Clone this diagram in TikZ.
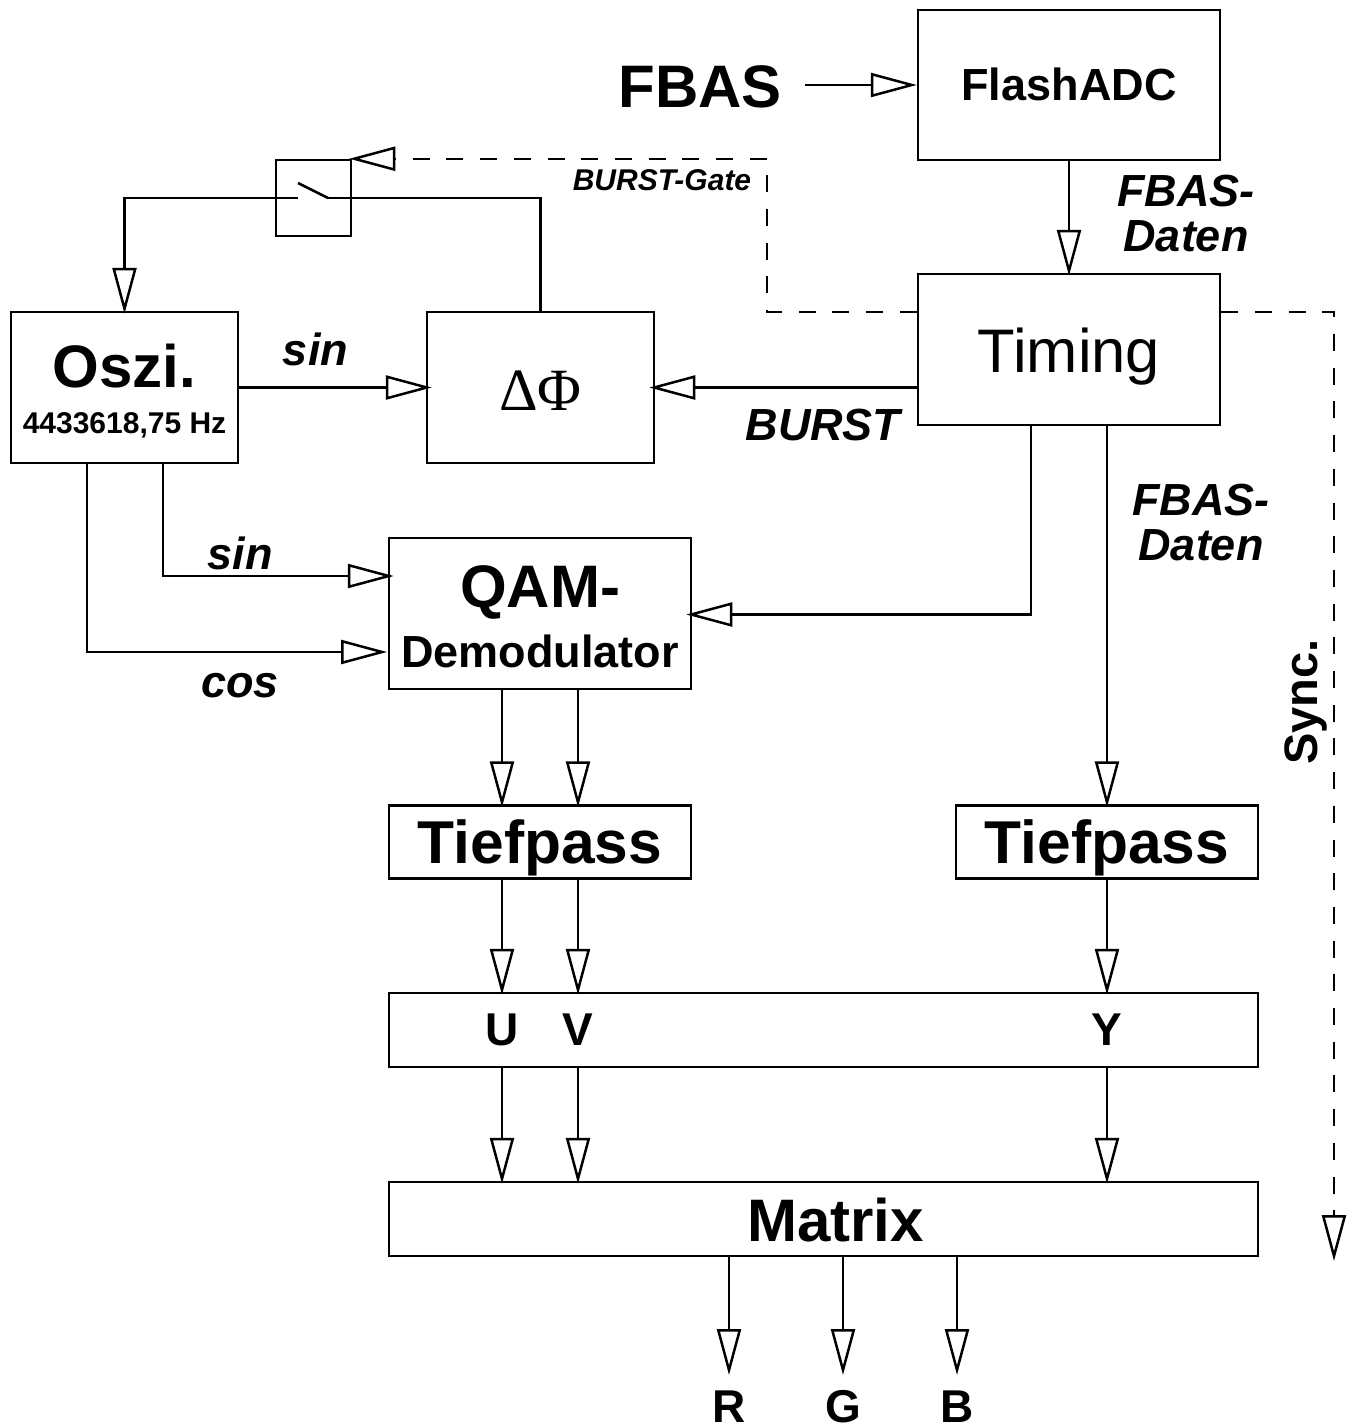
\documentclass[tikz,border=0pt]{standalone}
\usepackage{fontspec}
\setmainfont{Liberation Sans}
\newfontfamily\serifgreek{Liberation Serif}
\usetikzlibrary{arrows.meta}
\newcommand{\fs}[1]{\fontsize{#1}{#1}\selectfont}
% text line centred on the box, baseline #1 pt below the box centre
\newcommand{\bl}[2]{\makebox[0pt][c]{\raisebox{-#1pt}[0pt][0pt]{#2}}}
\tikzset{
  x=1pt,y=-1pt,
  wire/.style={line width=2.5pt,line join=miter},
  flow/.style={wire,shorten >=-3pt,-{Triangle[open,fill=white,length=46pt,width=24pt,line width=2.5pt]}},
  flowshort/.style={flow,shorten >=0pt},
  flowover/.style={flow,shorten >=-6pt},
  ctrl/.style={flow,dash pattern=on 17pt off 16.7pt},
  blockbox/.style={draw,line width=2.5pt,inner sep=0pt,anchor=center},
  big/.style={font=\bfseries\fs{60.5}},
  mid/.style={font=\bfseries\fs{45}},
  sig/.style={font=\bfseries\itshape\fs{45},inner sep=0pt,align=center},
  plain/.style={font=\bfseries\fs{46},inner sep=0pt},
}
\begin{document}
\begin{tikzpicture}
\useasboundingbox (0,0) rectangle (1349,1426);
% blocks
\node[blockbox,mid,minimum width=302pt,minimum height=150pt] (adc) at (1069,85) {\bl{16}{FlashADC}};
\node[blockbox,font=\fs{61.5},minimum width=302pt,minimum height=151pt] (timing) at (1069,349.5) {\bl{22.5}{Timing}};
\node[blockbox,minimum width=75pt,minimum height=76pt] (switch) at (313.5,198) {};
\node[blockbox,font=\bfseries,minimum width=227pt,minimum height=151pt] (osc) at (124.5,387.5) {\bl{0}{\fs{60}Oszi.}\bl{45.5}{\fs{30}4433618,75 Hz}};
\node[blockbox,font=\serifgreek\fs{60},minimum width=227pt,minimum height=151pt] (phase) at (540.5,387.5) {\bl{22.5}{\char"0394\char"03A6}};
\node[blockbox,font=\bfseries,minimum width=302pt,minimum height=151pt] (qam) at (540,613.5) {\bl{-6.5}{\fs{60}QAM-}\bl{53.5}{\fs{45}Demodulator}};
\node[blockbox,big,minimum width=302pt,minimum height=73pt] (lpa) at (540,842) {\bl{21}{Tiefpass}};
\node[blockbox,big,minimum width=302pt,minimum height=73pt] (lpb) at (1107,842) {\bl{21}{Tiefpass}};
\node[blockbox,minimum width=869pt,minimum height=74pt] (mix) at (823.5,1030) {};
\node[blockbox,font=\bfseries\fs{60},minimum width=869pt,minimum height=74pt] (matrix) at (823.5,1219) {\hspace*{24pt}\bl{22}{Matrix}};
% port coordinates
\coordinate (xu) at (502,0);
\coordinate (xv) at (578,0);
\coordinate (xy) at (1107,0);
\coordinate (xr) at (729,0);
\coordinate (xg) at (843,0);
\coordinate (xb) at (957,0);
\coordinate (xqam) at (1031,0);
\coordinate (xsin) at (163,0);
\coordinate (xcos) at (87,0);
\coordinate (xgate) at (767,0);
\coordinate (xsync) at (1334,0);
\coordinate (ytop) at (0,312);
\coordinate (ysin) at (0,576);
\coordinate (ycos) at (0,652);
\coordinate (ysw) at (0,198);
\coordinate (yqam) at (0,614.5);
\coordinate (yout) at (0,1372);
\coordinate (bladeA) at (298,198);
\coordinate (bladeB) at (328,198);
\coordinate (bladeT) at (298,183);
\coordinate (syncEnd) at (1334,1258);
\coordinate (fbasOut) at (805,85);
\coordinate (cosEnd) at (387,652);
% texts
\node[font=\bfseries\fs{60},inner sep=0pt] (fbas) at (700,87) {FBAS};
\node[plain] (u) at (502,1030) {U};
\node[plain] (v) at (578,1030) {V};
\node[plain] (y) at (1107,1030) {Y};
\node[plain] (r) at (729,1406.5) {R};
\node[plain] (g) at (843,1406.5) {G};
\node[plain] (b) at (957,1406.5) {B};
\node[font=\bfseries\fs{47},inner sep=0pt,rotate=90] (sync) at (1306,702) {Sync.};
\node[sig] (d1) at (1186,214) {FBAS-\\Daten};
\node[sig] (d2) at (1201,523) {FBAS-\\Daten};
\node[sig,font=\bfseries\itshape\fs{30}] (gate) at (662,180) {BURST-Gate};
\node[sig] (burst) at (823,425) {BURST};
\node[sig] (s1) at (315.5,349) {sin};
\node[sig] (s2) at (240,553) {sin};
\node[sig] (c1) at (240,686) {cos};
% connectors
\draw[flowshort] (fbasOut) -- (adc.west |- fbasOut);
\draw[flow] (adc) -- (timing);
\draw[flowover] (timing.west |- osc) -- (phase.east |- osc);
\draw[flowover] (osc.east) -- (phase.west);
\draw[flowover] (xqam |- timing.south) -- (xqam |- yqam) -- (qam.east |- yqam);
\draw[flow] (xy |- timing.south) -- (xy |- lpb.north);
\draw[flowover] (xsin |- osc.south) -- (xsin |- ysin) -- (qam.west |- ysin);
\draw[flowshort] (xcos |- osc.south) -- (xcos |- ycos) -- (cosEnd);
\draw[flow] (xu |- qam.south) -- (xu |- lpa.north);
\draw[flow] (xv |- qam.south) -- (xv |- lpa.north);
\draw[flow] (xu |- lpa.south) -- (xu |- mix.north);
\draw[flow] (xv |- lpa.south) -- (xv |- mix.north);
\draw[flow] (xy |- lpb.south) -- (xy |- mix.north);
\draw[flow] (xu |- mix.south) -- (xu |- matrix.north);
\draw[flow] (xv |- mix.south) -- (xv |- matrix.north);
\draw[flow] (xy |- mix.south) -- (xy |- matrix.north);
\draw[flow] (xr |- matrix.south) -- (xr |- yout);
\draw[flow] (xg |- matrix.south) -- (xg |- yout);
\draw[flow] (xb |- matrix.south) -- (xb |- yout);
% switch
\draw[wire] (bladeB) -- (phase.north |- ysw) -- (phase.north);
\draw[flow] (bladeA) -- (osc.north |- ysw) -- (osc.north);
\draw[wire] (bladeB) -- (bladeT);
% dashed
\draw[ctrl] (timing.west |- ytop) -- (xgate |- ytop) -- (xgate |- switch.north) -- (switch.north east);
\draw[ctrl] (timing.east |- ytop) -- (xsync |- ytop) -- (syncEnd);
\end{tikzpicture}
\end{document}
